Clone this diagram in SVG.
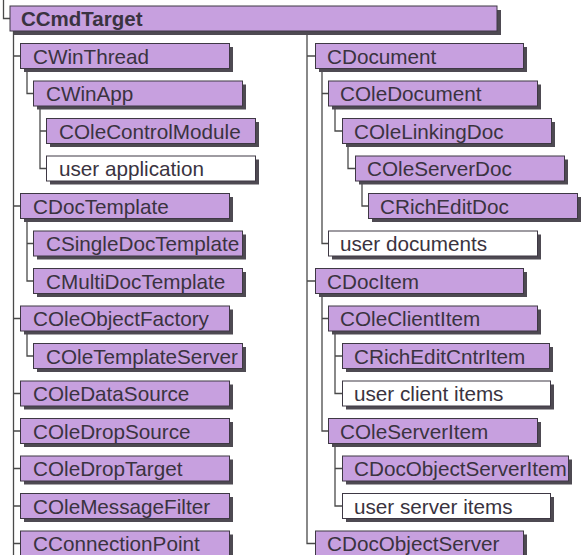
<svg xmlns="http://www.w3.org/2000/svg" width="583" height="555" viewBox="0 0 583 555">
<style>
.sh{fill:#4e4a52}
.b{fill:#c7a0df;stroke:#3e3844;stroke-width:1}
.w{fill:#ffffff;stroke:#3e3844;stroke-width:1}
.t{font-family:"Liberation Sans",Arial,sans-serif;font-size:20.7px;fill:#3a3340}
.tb{font-family:"Liberation Sans",Arial,sans-serif;font-size:20.5px;font-weight:bold;fill:#3a3340}
.c{fill:none;stroke:#4a4a4a;stroke-width:1.3}
</style>
<rect width="583" height="555" fill="#ffffff"/>
<g id="connectors" class="c">
<path d="M3.5,0 V18.5 H10"/>
<path d="M13.5,31 V555"/>
<path d="M13.5,56 H20 M13.5,206 H20 M13.5,318.5 H20 M13.5,393.5 H20 M13.5,431 H20 M13.5,468.5 H20 M13.5,506 H20 M13.5,543.5 H20"/>
<path d="M27,68 V93.5 H33"/>
<path d="M40,105.5 V168.5 H46 M40,131 H46"/>
<path d="M27,218 V281 H33 M27,243.5 H33"/>
<path d="M27,330.5 V356 H33"/>
<path d="M307,31 V543.5 H315 M307,56 H315 M307,281 H315"/>
<path d="M322,68 V243.5 H328 M322,93.5 H328"/>
<path d="M335,105.5 V131 H342"/>
<path d="M348,143 V168.5 H355"/>
<path d="M362,180.5 V206 H368"/>
<path d="M322,293 V431 H328 M322,318.5 H328"/>
<path d="M335,330.5 V393.5 H342 M335,356 H342"/>
<path d="M335,443 V506 H342 M335,468.5 H342"/>
</g>
<g id="n-CCmdTarget"><rect class="sh" x="14" y="10" width="487" height="25"/><rect class="b" x="10" y="6" width="487" height="25"/><text class="tb" x="21" y="26">CCmdTarget</text></g>
<g id="n-CWinThread"><rect class="sh" x="24" y="47" width="209" height="25"/><rect class="b" x="20.5" y="43.5" width="209" height="25"/><text class="t" x="33" y="63.5">CWinThread</text></g>
<g id="n-CWinApp"><rect class="sh" x="37" y="84.5" width="209" height="25"/><rect class="b" x="33.5" y="81" width="209" height="25"/><text class="t" x="46" y="101">CWinApp</text></g>
<g id="n-COleControlModule"><rect class="sh" x="50" y="122" width="209" height="25"/><rect class="b" x="46.5" y="118.5" width="209" height="25"/><text class="t" x="59" y="138.5">COleControlModule</text></g>
<g id="n-user-application"><rect class="sh" x="50" y="159.5" width="209" height="25"/><rect class="w" x="46.5" y="156" width="209" height="25"/><text class="t" x="59" y="176">user application</text></g>
<g id="n-CDocTemplate"><rect class="sh" x="24" y="197" width="209" height="25"/><rect class="b" x="20.5" y="193.5" width="209" height="25"/><text class="t" x="33" y="213.5">CDocTemplate</text></g>
<g id="n-CSingleDocTemplate"><rect class="sh" x="37" y="234.5" width="209" height="25"/><rect class="b" x="33.5" y="231" width="209" height="25"/><text class="t" x="46" y="251">CSingleDocTemplate</text></g>
<g id="n-CMultiDocTemplate"><rect class="sh" x="37" y="272" width="209" height="25"/><rect class="b" x="33.5" y="268.5" width="209" height="25"/><text class="t" x="46" y="288.5">CMultiDocTemplate</text></g>
<g id="n-COleObjectFactory"><rect class="sh" x="24" y="309.5" width="209" height="25"/><rect class="b" x="20.5" y="306" width="209" height="25"/><text class="t" x="33" y="326">COleObjectFactory</text></g>
<g id="n-COleTemplateServer"><rect class="sh" x="37" y="347" width="209" height="25"/><rect class="b" x="33.5" y="343.5" width="209" height="25"/><text class="t" x="46" y="363.5">COleTemplateServer</text></g>
<g id="n-COleDataSource"><rect class="sh" x="24" y="384.5" width="209" height="25"/><rect class="b" x="20.5" y="381" width="209" height="25"/><text class="t" x="33" y="401">COleDataSource</text></g>
<g id="n-COleDropSource"><rect class="sh" x="24" y="422" width="209" height="25"/><rect class="b" x="20.5" y="418.5" width="209" height="25"/><text class="t" x="33" y="438.5">COleDropSource</text></g>
<g id="n-COleDropTarget"><rect class="sh" x="24" y="459.5" width="209" height="25"/><rect class="b" x="20.5" y="456" width="209" height="25"/><text class="t" x="33" y="476">COleDropTarget</text></g>
<g id="n-COleMessageFilter"><rect class="sh" x="24" y="497" width="209" height="25"/><rect class="b" x="20.5" y="493.5" width="209" height="25"/><text class="t" x="33" y="513.5">COleMessageFilter</text></g>
<g id="n-CConnectionPoint"><rect class="sh" x="24" y="534.5" width="209" height="25"/><rect class="b" x="20.5" y="531" width="209" height="25"/><text class="t" x="33" y="551">CConnectionPoint</text></g>
<g id="n-CDocument"><rect class="sh" x="319" y="47" width="208" height="25"/><rect class="b" x="315.5" y="43.5" width="208" height="25"/><text class="t" x="327" y="63.5">CDocument</text></g>
<g id="n-COleDocument"><rect class="sh" x="332" y="84.5" width="209" height="25"/><rect class="b" x="328.5" y="81" width="209" height="25"/><text class="t" x="340" y="101">COleDocument</text></g>
<g id="n-COleLinkingDoc"><rect class="sh" x="346" y="122" width="209" height="25"/><rect class="b" x="342.5" y="118.5" width="209" height="25"/><text class="t" x="354" y="138.5">COleLinkingDoc</text></g>
<g id="n-COleServerDoc"><rect class="sh" x="359" y="159.5" width="209" height="25"/><rect class="b" x="355.5" y="156" width="209" height="25"/><text class="t" x="367" y="176">COleServerDoc</text></g>
<g id="n-CRichEditDoc"><rect class="sh" x="372" y="197" width="209" height="25"/><rect class="b" x="368.5" y="193.5" width="209" height="25"/><text class="t" x="380" y="213.5">CRichEditDoc</text></g>
<g id="n-user-documents"><rect class="sh" x="332" y="234.5" width="209" height="25"/><rect class="w" x="328.5" y="231" width="209" height="25"/><text class="t" x="340" y="251">user documents</text></g>
<g id="n-CDocItem"><rect class="sh" x="319" y="272" width="208" height="25"/><rect class="b" x="315.5" y="268.5" width="208" height="25"/><text class="t" x="327" y="288.5">CDocItem</text></g>
<g id="n-COleClientItem"><rect class="sh" x="332" y="309.5" width="209" height="25"/><rect class="b" x="328.5" y="306" width="209" height="25"/><text class="t" x="340" y="326">COleClientItem</text></g>
<g id="n-CRichEditCntrItem"><rect class="sh" x="346" y="347" width="207" height="25"/><rect class="b" x="342.5" y="343.5" width="207" height="25"/><text class="t" x="354" y="363.5">CRichEditCntrItem</text></g>
<g id="n-user-client-items"><rect class="sh" x="346" y="384.5" width="208" height="25"/><rect class="w" x="342.5" y="381" width="208" height="25"/><text class="t" x="354" y="401">user client items</text></g>
<g id="n-COleServerItem"><rect class="sh" x="332" y="422" width="209" height="25"/><rect class="b" x="328.5" y="418.5" width="209" height="25"/><text class="t" x="340" y="438.5">COleServerItem</text></g>
<g id="n-CDocObjectServerItem"><rect class="sh" x="346" y="459.5" width="226" height="25"/><rect class="b" x="342.5" y="456" width="226" height="25"/><text class="t" x="354" y="476">CDocObjectServerItem</text></g>
<g id="n-user-server-items"><rect class="sh" x="346" y="497" width="208" height="25"/><rect class="w" x="342.5" y="493.5" width="208" height="25"/><text class="t" x="354" y="513.5">user server items</text></g>
<g id="n-CDocObjectServer"><rect class="sh" x="319" y="534.5" width="208" height="25"/><rect class="b" x="315.5" y="531" width="208" height="25"/><text class="t" x="327" y="551">CDocObjectServer</text></g>
</svg>
